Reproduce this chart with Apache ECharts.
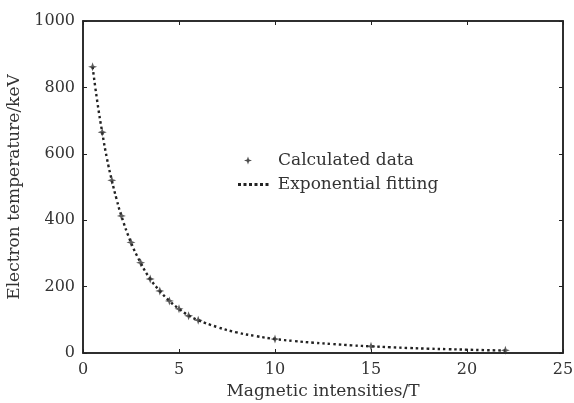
<!DOCTYPE html>
<html><head><meta charset="utf-8">
<script src="https://cdn.jsdelivr.net/npm/echarts@6/dist/echarts.min.js"></script>
<style>html,body{margin:0;padding:0;background:#fff}#c{width:574px;height:403px}</style>
</head><body><div id="c"></div>
<script>
var dataX = [0.5,1,1.5,2,2.5,3,3.5,4,4.5,5,5.5,6,10,15,22];
var dataY = [862,665,520,413,333,272,223,187,157,133,112,99,42,20,8];
var fitX = [0.5,0.75,1,1.25,1.5,1.75,2,2.5,3,3.5,4,4.5,5,5.5,6,7,8,9,10,11,12,13,14,15,16,17,18,19,20,21,22];
var fitY = [862,755,665,585,520,463,413,333,272,223,187,157,133,113,99,78,62,51,42,36,31,27,23,20,17.5,15,13,11.5,10,8.5,7.5];
var xTicks = [0,5,10,15,20,25];
var yTicks = [0,200,400,600,800,1000];

var font = 'DejaVu Serif';
var star = 'path://M0,-10 L2.6,-2.6 L10,0 L2.6,2.6 L0,10 L-2.6,2.6 L-10,0 L-2.6,-2.6 Z';
var dots = 'path://M0,0h3v3h-3z M5.5,0h3v3h-3z M11,0h3v3h-3z M16.5,0h3v3h-3z M22,0h3v3h-3z M27.5,0h3v3h-3z';
var chart = echarts.init(document.getElementById('c'), null, {renderer:'canvas'});
var axisCommon = {
  axisLine:{show:true,onZero:false,lineStyle:{color:'#222',width:1.5}},
  axisTick:{show:true,inside:true,length:4,lineStyle:{color:'#222',width:1}},
  splitLine:{show:false}
};
chart.setOption({
  animation:false,
  backgroundColor:'#fff',
  textStyle:{fontFamily:font},
  grid:{left:83,right:11,top:21,bottom:50,show:true,borderColor:'#222',borderWidth:1.5,containLabel:false,outerBoundsMode:'none'},
  legend:[{
    left:239, top:147, itemWidth:8, itemHeight:8, icon:star,
    textStyle:{fontFamily:font,fontSize:17,color:'#333',padding:[0,0,0,21]},
    itemStyle:{color:'#222'},
    data:[{name:'Calculated data'}]
  },{
    left:233, top:171, itemWidth:31, itemHeight:3, icon:dots,
    textStyle:{fontFamily:font,fontSize:17,color:'#333',padding:[0,0,0,4]},
    itemStyle:{color:'#222'},
    data:[{name:'Exponential fitting'}]
  }],
  xAxis:[Object.assign({
    type:'value',min:0,max:25,interval:5,
    name:'Magnetic intensities/T',nameLocation:'middle',nameGap:21,
    nameTextStyle:{fontFamily:font,fontSize:17,color:'#333'},
    axisLabel:{fontFamily:font,fontSize:16,color:'#333',margin:9,
      formatter:function(v){return xTicks.indexOf(v)>=0?String(v):'';}}
  },axisCommon),
  Object.assign({type:'value',min:0,max:25,interval:5,position:'top',axisLabel:{show:false}},axisCommon)],
  yAxis:[Object.assign({
    type:'value',min:0,max:1000,interval:200,
    name:'Electron temperature/keV',nameLocation:'middle',nameGap:53,
    nameTextStyle:{fontFamily:font,fontSize:17,color:'#333'},
    axisLabel:{fontFamily:font,fontSize:16,color:'#333',margin:8,
      formatter:function(v){return yTicks.indexOf(v)>=0?String(v):'';}}
  },axisCommon),
  Object.assign({type:'value',min:0,max:1000,interval:200,position:'right',axisLabel:{show:false}},axisCommon)],
  series:[
    {name:'Exponential fitting',type:'line',showSymbol:false,symbol:'none',smooth:true,
     data:fitX.map(function(x,i){return [x,fitY[i]];}),
     lineStyle:{color:'#222',width:2.4,type:[2.5,3]},itemStyle:{color:'#222'},z:2},
    {name:'Calculated data',type:'scatter',symbol:star,symbolSize:9,
     data:dataX.map(function(x,i){return [x,dataY[i]];}),
     itemStyle:{color:'#333'},z:3}
  ]
});
</script></body></html>
